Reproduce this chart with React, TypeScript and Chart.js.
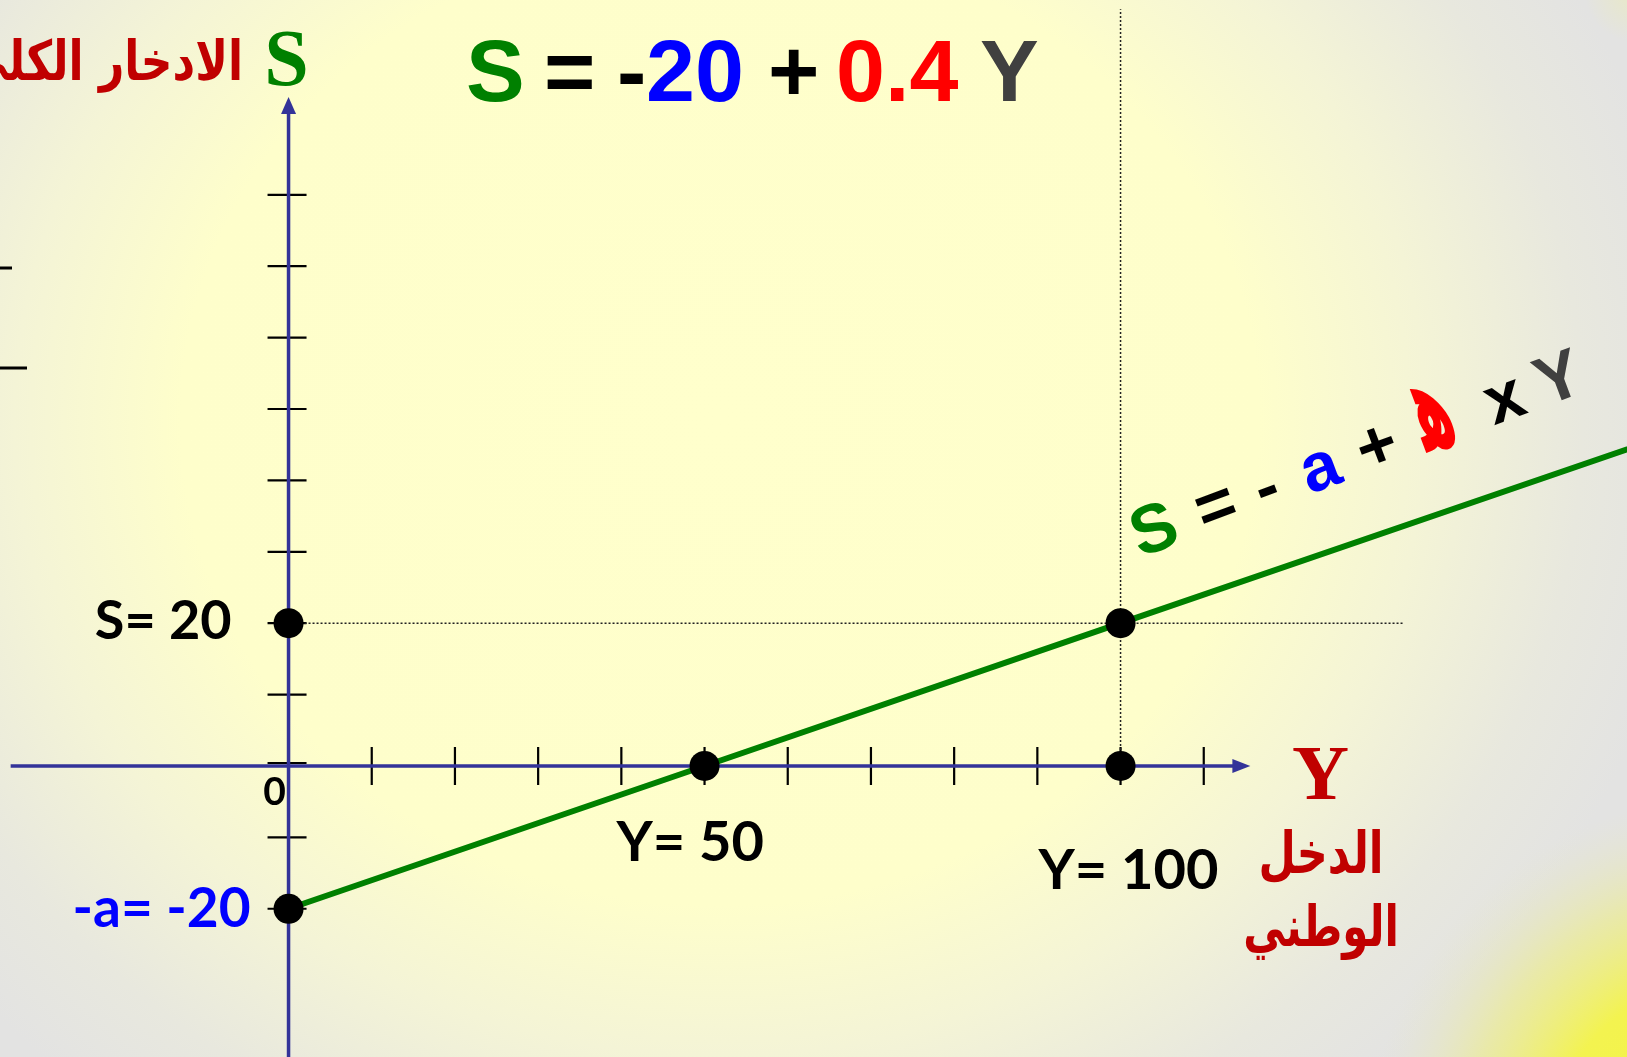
import React, { useEffect, useRef } from "react";
import { Chart, registerables } from "chart.js";

Chart.register(...registerables);

// Saving function: S = -a + s·Y with a = 20, s = 0.4
const intercept = -20;
const slope = 0.4;

// Saving line (national income Y, total saving S)
const incomeLine = [0, 50, 100, 165];
const savingLine = [-20, 0, 20, 46];

// Highlighted points
const markedIncome = [0, 0, 50, 100, 100];
const markedSaving = [20, -20, 0, 0, 20];

// Axis tick positions
const incomeTicks = [10, 20, 30, 40, 50, 60, 70, 80, 90, 100, 110];
const savingTicks = [-20, -10, 0, 10, 20, 30, 40, 50, 60, 70, 80];

// Visible value window and axis extents
const X_MIN = -34.68;
const X_MAX = 160.87;
const Y_MIN = -40.76;
const Y_MAX = 107.28;
const X_AXIS_FROM = -33.4;
const X_AXIS_TO = 115.6;
const Y_AXIS_TO = 93.7;
const GUIDE_H_TO = 134;
const GUIDE_V_TO = 106;

const W = 1627;
const H = 1057;

const ARABIC = '"DejaVu Sans", sans-serif';
const SERIF = '"Liberation Serif", "Times New Roman", serif';
const SANS = '"Liberation Sans", Arial, sans-serif';
const LABEL = 'Lato, "Open Sans", sans-serif';

const backgroundPlugin = {
  id: "slideBackground",
  beforeDraw(chart: any) {
    const { ctx, width, height } = chart;
    ctx.save();
    ctx.fillStyle = "#E3E3E2";
    ctx.fillRect(0, 0, width, height);

    ctx.save();
    ctx.translate(720, 420);
    ctx.scale(1, 0.9);
    const g = ctx.createRadialGradient(0, 0, 0, 0, 0, 980);
    g.addColorStop(0, "#FFFFCC");
    g.addColorStop(0.55, "#FEFECB");
    g.addColorStop(0.72, "#F4F4D6");
    g.addColorStop(0.88, "#E8E8DE");
    g.addColorStop(1, "#E3E3E2");
    ctx.fillStyle = g;
    ctx.fillRect(-1200, -1200, 3600, 3600);
    ctx.restore();

    const c = ctx.createRadialGradient(1720, 1150, 0, 1720, 1150, 400);
    c.addColorStop(0, "rgba(245,245,60,1)");
    c.addColorStop(0.42, "rgba(243,243,80,1)");
    c.addColorStop(0.64, "rgba(236,236,140,0.65)");
    c.addColorStop(0.88, "rgba(230,230,200,0)");
    ctx.fillStyle = c;
    ctx.fillRect(1100, 600, 527, 457);

    const t = ctx.createRadialGradient(1635, -8, 0, 1635, -8, 50);
    t.addColorStop(0, "rgba(238,238,170,0.5)");
    t.addColorStop(1, "rgba(238,238,170,0)");
    ctx.fillStyle = t;
    ctx.fillRect(1540, 0, 87, 60);
    ctx.restore();
  },
};

const axesPlugin = {
  id: "crossAxes",
  beforeDatasetsDraw(chart: any) {
    const { ctx } = chart;
    const xs = chart.scales.x;
    const ys = chart.scales.y;
    const x0 = xs.getPixelForValue(0);
    const y0 = ys.getPixelForValue(0);
    ctx.save();

    // stub marks at the left edge
    ctx.strokeStyle = "#000";
    ctx.lineWidth = 3;
    ctx.beginPath();
    ctx.moveTo(0, 268);
    ctx.lineTo(12, 268);
    ctx.moveTo(0, 368);
    ctx.lineTo(27, 368);
    ctx.stroke();

    // tick marks
    ctx.lineWidth = 2.2;
    ctx.beginPath();
    for (const v of incomeTicks) {
      const px = xs.getPixelForValue(v);
      ctx.moveTo(px, y0 - 19);
      ctx.lineTo(px, y0 + 19);
    }
    for (const v of savingTicks) {
      const py = ys.getPixelForValue(v) - (v === 0 ? 3 : 0);
      ctx.moveTo(x0 - 21, py);
      ctx.lineTo(x0 + 18, py);
    }
    ctx.stroke();

    // axes with arrow heads
    ctx.strokeStyle = "#333399";
    ctx.fillStyle = "#333399";
    ctx.lineWidth = 3.5;
    const xTip = xs.getPixelForValue(X_AXIS_TO);
    const yTip = ys.getPixelForValue(Y_AXIS_TO);
    ctx.beginPath();
    ctx.moveTo(xs.getPixelForValue(X_AXIS_FROM), y0);
    ctx.lineTo(xTip - 12, y0);
    ctx.moveTo(x0, chart.height);
    ctx.lineTo(x0, yTip + 12);
    ctx.stroke();
    ctx.beginPath();
    ctx.moveTo(xTip, y0);
    ctx.lineTo(xTip - 18, y0 - 7);
    ctx.lineTo(xTip - 18, y0 + 7);
    ctx.closePath();
    ctx.fill();
    ctx.beginPath();
    ctx.moveTo(x0, yTip);
    ctx.lineTo(x0 - 7.5, yTip + 17);
    ctx.lineTo(x0 + 7.5, yTip + 17);
    ctx.closePath();
    ctx.fill();

    // dotted guides to the point (100, 20)
    ctx.strokeStyle = "#222";
    ctx.lineWidth = 1.5;
    ctx.setLineDash([2, 2]);
    const gx = xs.getPixelForValue(markedIncome[4]);
    const gy = ys.getPixelForValue(markedSaving[4]);
    ctx.beginPath();
    ctx.moveTo(x0, gy);
    ctx.lineTo(xs.getPixelForValue(GUIDE_H_TO), gy);
    ctx.moveTo(gx, y0);
    ctx.lineTo(gx, ys.getPixelForValue(GUIDE_V_TO));
    ctx.stroke();
    ctx.restore();
  },
};

// Arabic text, stretched upward a little for taller letter forms
function arabic(ctx: any, text: string, x: number, y: number, size: number, align: string, stretch = 1.25) {
  ctx.save();
  ctx.translate(x, y);
  ctx.scale(1, stretch);
  ctx.font = `bold ${size}px ${ARABIC}`;
  ctx.textAlign = align;
  ctx.fillText(text, 0, 0);
  ctx.restore();
}

const labelsPlugin = {
  id: "slideLabels",
  afterDatasetsDraw(chart: any) {
    const { ctx } = chart;
    const xs = chart.scales.x;
    const ys = chart.scales.y;
    const x0 = xs.getPixelForValue(0);
    const y0 = ys.getPixelForValue(0);
    ctx.save();
    ctx.textBaseline = "alphabetic";

    // axis names
    ctx.fillStyle = "#008000";
    ctx.font = `bold 80px ${SERIF}`;
    ctx.textAlign = "center";
    ctx.fillText("S", 286.5, 85);

    ctx.fillStyle = "#C00000";
    ctx.font = `bold 79px ${SERIF}`;
    ctx.fillText("Y", 1320.5, 799);

    arabic(ctx, "الادخار الكلي", 243, 80, 44, "right");
    arabic(ctx, "الدخل", 1321, 873, 43, "center", 1.35);
    arabic(ctx, "الوطني", 1321, 946, 42, "center", 1.35);

    // equation heading
    ctx.font = `bold 88px ${SANS}`;
    ctx.textAlign = "left";
    const head: [string, string, number][] = [
      ["S", "#008000", 466],
      ["=", "#000000", 544],
      ["-", "#000000", 617],
      [String(Math.abs(intercept)), "#0000FF", 646],
      ["+", "#000000", 768],
      [String(slope), "#FF0000", 836],
      ["Y", "#404040", 980],
    ];
    for (const [s, col, x] of head) {
      ctx.fillStyle = col;
      ctx.fillText(s, x, 101);
    }

    // point labels
    ctx.font = `700 54px ${LABEL}`;
    ctx.textAlign = "right";
    ctx.fillStyle = "#000";
    ctx.fillText(`S= ${markedSaving[0]}`, x0 - 57, ys.getPixelForValue(markedSaving[0]) + 16);
    ctx.fillStyle = "#0000FF";
    ctx.font = `700 55px ${LABEL}`;
    ctx.fillText(`-a= ${markedSaving[1]}`, x0 - 38, ys.getPixelForValue(markedSaving[1]) + 18);
    ctx.fillStyle = "#000";
    ctx.font = `700 39px ${LABEL}`;
    ctx.textAlign = "center";
    ctx.fillText("0", x0 - 14, y0 + 39);
    ctx.font = `700 56px ${LABEL}`;
    ctx.textAlign = "left";
    ctx.fillText(`Y= ${markedIncome[2]}`, xs.getPixelForValue(markedIncome[2]) - 88, y0 + 95);
    ctx.fillText(`Y= ${markedIncome[3]}`, xs.getPixelForValue(markedIncome[3]) - 82, y0 + 123);

    // general form written along the line
    ctx.translate(1161.5, 549.8);
    ctx.rotate((-20.5 * Math.PI) / 180);
    ctx.textAlign = "center";
    const form: [string, string, number, string, number][] = [
      ["S", "#008000", 0, SANS, 68],
      ["=", "#000000", 66, SANS, 68],
      ["-", "#000000", 120, SANS, 68],
      ["a", "#0000FF", 177, SANS, 68],
      ["+", "#000000", 238, SANS, 68],
      ["x", "#000000", 374, SANS, 68],
      ["Y", "#404040", 432, SANS, 68],
    ];
    for (const [s, col, t, fam, size] of form) {
      ctx.fillStyle = col;
      ctx.font = `bold ${size}px ${fam}`;
      ctx.fillText(s, t, 0);
    }
    // the propensity symbol, drawn narrow and tall
    ctx.save();
    ctx.translate(301, 2);
    ctx.scale(0.72, 1.75);
    ctx.fillStyle = "#FF0000";
    ctx.font = `bold 74px ${ARABIC}`;
    ctx.fillText("ﻫ", 0, 0);
    ctx.restore();
    ctx.restore();
  },
};

export default function App() {
  const ref = useRef<HTMLCanvasElement>(null);

  useEffect(() => {
    if (!ref.current) return;
    const chart = new Chart(ref.current, {
      type: "scatter",
      data: {
        datasets: [
          {
            label: "points",
            data: markedIncome.map((x, i) => ({ x, y: markedSaving[i] })),
            backgroundColor: "#000",
            borderWidth: 0,
            pointRadius: 15,
            pointHoverRadius: 15,
            showLine: false,
            order: 0,
          },
          {
            label: "S",
            data: incomeLine.map((x, i) => ({ x, y: savingLine[i] })),
            borderColor: "#008000",
            borderWidth: 6,
            pointRadius: 0,
            showLine: true,
            order: 1,
          },
        ],
      },
      options: {
        animation: false,
        responsive: false,
        maintainAspectRatio: false,
        devicePixelRatio: 1,
        events: [],
        layout: { padding: 0, autoPadding: false },
        scales: {
          x: { type: "linear", min: X_MIN, max: X_MAX, display: false },
          y: { type: "linear", min: Y_MIN, max: Y_MAX, display: false },
        },
        plugins: { legend: { display: false }, tooltip: { enabled: false } },
      },
      plugins: [backgroundPlugin, axesPlugin, labelsPlugin],
    } as any);
    return () => chart.destroy();
  }, []);

  return (
    <div style={{ position: "fixed", left: 0, top: 0, width: W, height: H, overflow: "hidden" }}>
      <canvas ref={ref} width={W} height={H} style={{ display: "block", width: W, height: H }} />
    </div>
  );
}
